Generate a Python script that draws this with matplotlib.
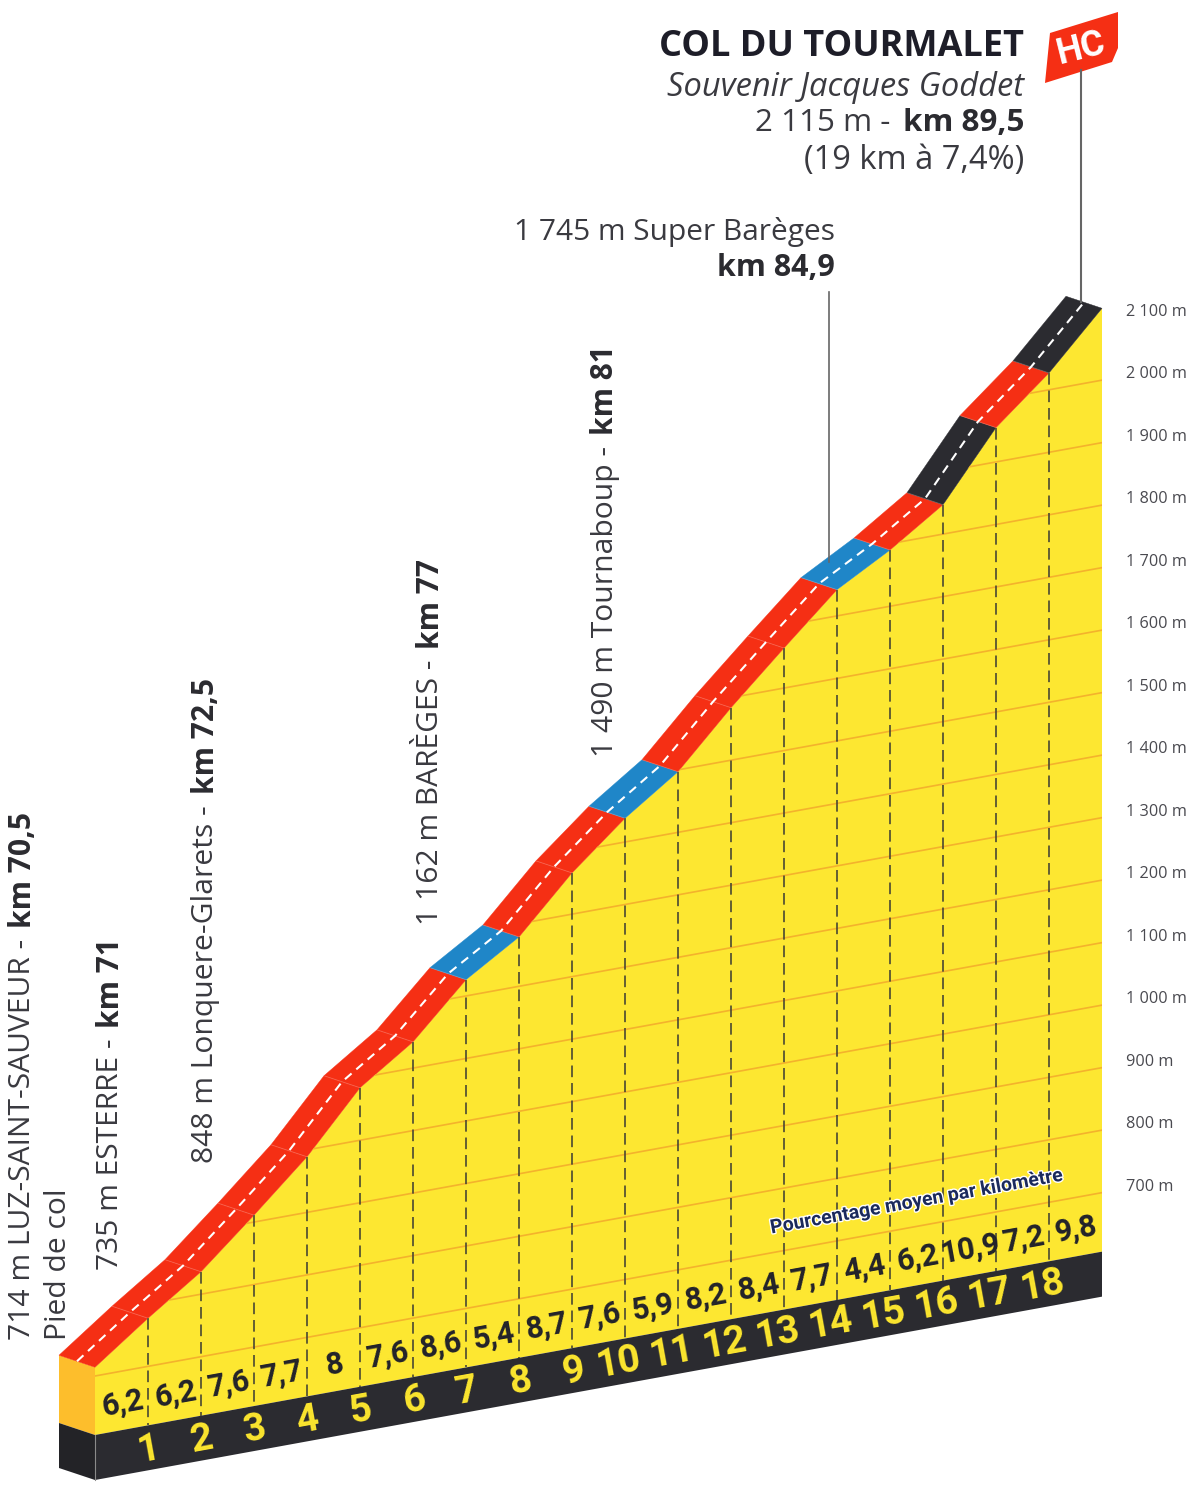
import matplotlib
matplotlib.use("Agg")
import matplotlib.pyplot as plt
import matplotlib.patheffects as pe
from matplotlib.patches import Polygon
from matplotlib.transforms import Affine2D

km_marks = [0, 1, 2, 3, 4, 5, 6, 7, 8, 9, 10, 11, 12, 13, 14, 15, 16, 17, 18, 19]
altitudes = [714, 777, 836, 911, 989, 1084, 1142, 1226, 1279, 1366,
             1438, 1497, 1584, 1664, 1742, 1790, 1847, 1955, 2027, 2115]
percents = [6.2, 6.2, 7.6, 7.7, 8, 7.6, 8.6, 5.4, 8.7, 7.6,
            5.9, 8.2, 8.4, 7.7, 4.4, 6.2, 10.9, 7.2, 9.8]
grid_alts = list(range(700, 2100, 100))
tick_alts = list(range(700, 2200, 100))

BASE_ALT = 605.6
BAND_ALT = 533.6
YELLOW = "#FDE731"
DARK = "#2B2B30"
TEXT = "#3a3a40"
NARROW = "Roboto"
OPEN = "Open Sans"


def road_color(p):
    if p < 6:
        return "#1F86C8"
    if p < 9.5:
        return "#F52F14"
    return DARK


def alt_label(a):
    if a >= 1000:
        return f"{a // 1000} {a % 1000:03d} m"
    return f"{a} m"


def two_part(fig, ax, x, y, regular, bold, size, rot=90):
    # regular text then bold text right after it, along the reading direction
    rend = fig.canvas.get_renderer()
    t1 = ax.text(x, y, regular, family=OPEN, fontsize=size, color=TEXT, rotation=rot,
                 rotation_mode="anchor", ha="left", va="center")
    b = t1.get_window_extent(rend)
    if rot == 90:
        ax.text(x, y - b.height - 3, bold, family=OPEN, fontsize=size, weight="bold", color=DARK,
                rotation=rot, rotation_mode="anchor", ha="left", va="center")
    else:
        t2 = ax.text(x, y, bold, family=OPEN, fontsize=size, weight="bold", color=DARK,
                     ha="right", va="center")
        b2 = t2.get_window_extent(rend)
        t1.set_x(x - b2.width - b.width - 4)


def main():
    fig = plt.figure(figsize=(12, 15.07), dpi=100)
    ax = fig.add_axes([0, 0, 1, 1])
    ax.set_xlim(0, 1200)
    ax.set_ylim(1507, 0)
    ax.axis("off")

    # oblique projection: km and metres to picture position
    prof = Affine2D.from_values(53, -9.65, 0, -0.625, 95, 1813.5)
    front = prof + ax.transData
    centre = prof + Affine2D().translate(-18, -6) + ax.transData

    # left side face
    k0 = km_marks[0]
    p = prof.transform([(k0, altitudes[0]), (k0, BASE_ALT), (k0, BAND_ALT)])
    ax.add_patch(Polygon([p[0], p[1], p[1] + (-36, -12), p[0] + (-36, -12)], fc="#FDBE2C", ec="none"))
    ax.add_patch(Polygon([p[1], p[2], p[2] + (-36, -12), p[1] + (-36, -12)], fc="#232327", ec="none"))

    # yellow wall and dark band
    wall_pts = list(zip(km_marks, altitudes)) + [(km_marks[-1], BASE_ALT), (k0, BASE_ALT)]
    wall = Polygon(wall_pts, fc=YELLOW, ec="none", transform=front)
    ax.add_patch(wall)
    ax.add_patch(Polygon([(k0, BASE_ALT), (km_marks[-1], BASE_ALT), (km_marks[-1], BAND_ALT), (k0, BAND_ALT)],
                         fc=DARK, ec="none", transform=front))
    ax.plot([k0, k0], [BASE_ALT, BAND_ALT], color="#8a8a8a", lw=0.8, transform=front)

    for a in grid_alts:
        line, = ax.plot([k0, km_marks[-1]], [a, a], color="#F4B22C", lw=1.2, transform=front)
        line.set_clip_path(wall)

    for k, a in zip(km_marks[1:-1], altitudes[1:-1]):
        ax.plot([k, k], [a, BASE_ALT], color="#4a4833", lw=1.2, dashes=(7, 3.5), transform=front)

    # road, one piece per km
    for i, pct in enumerate(percents):
        seg = [(km_marks[i], altitudes[i]), (km_marks[i + 1], altitudes[i + 1])]
        pts = prof.transform(seg)
        quad = [pts[0], pts[1], pts[1] + (-36, -12), pts[0] + (-36, -12)]
        ax.add_patch(Polygon(quad, fc=road_color(pct), ec=road_color(pct), lw=0.3))
        if i > 0:
            ax.plot([pts[0][0], pts[0][0] - 36], [pts[0][1], pts[0][1] - 12],
                    color="white", alpha=0.18, lw=0.7)
    ax.plot(km_marks, altitudes, color="white", lw=1.5, dashes=(4.2, 3), transform=centre)

    # percent and km numbers along the base
    for i, pct in enumerate(percents):
        x, y = prof.transform((km_marks[i] + 0.5, BASE_ALT))
        label = f"{pct:g}".replace(".", ",")
        ax.text(x + 1, y - 27, label, family=NARROW, weight="bold", fontsize=22, color="#22222a",
                rotation=10.3, rotation_mode="anchor", ha="center", va="center")
    for k in km_marks[1:-1]:
        x, y = prof.transform((k, BASE_ALT))
        ax.text(x + (1 if k < 10 else -6), y + 24, str(k), family=NARROW, weight="bold", fontsize=28,
                color="#FCE62E", rotation=10.3, rotation_mode="anchor", ha="center", va="center")

    ax.text(917, 1202, "Pourcentage moyen par kilomètre", family=NARROW, weight="bold", fontsize=14,
            color="#1B2A5C", rotation=10.3, rotation_mode="anchor", ha="center", va="center",
            path_effects=[pe.withStroke(linewidth=2, foreground="white")])

    # altitude scale on the right
    for a in tick_alts:
        x, y = prof.transform((km_marks[-1], a))
        ax.text(x + 24, y - 6, alt_label(a), family=OPEN, fontsize=11.7, color="#4a4a50", va="center", ha="left")

    # climb labels
    two_part(fig, ax, 23, 1340, "714 m LUZ-SAINT-SAUVEUR - ", "km 70,5", 21.6)
    ax.text(58, 1340, "Pied de col", family=OPEN, fontsize=21.6, color=TEXT, rotation=90,
            rotation_mode="anchor", ha="left", va="center")
    two_part(fig, ax, 111, 1270, "735 m ESTERRE - ", "km 71", 21.6)
    two_part(fig, ax, 206, 1163, "848 m Lonquere-Glarets - ", "km 72,5", 21.6)
    two_part(fig, ax, 431, 925, "1 162 m BARÈGES - ", "km 77", 21.6)
    two_part(fig, ax, 605, 757, "1 490 m Tournaboup - ", "km 81", 21.6)

    ax.text(835, 232, "1 745 m Super Barèges", family=OPEN, fontsize=21.5, color=TEXT, ha="right", va="center")
    ax.text(835, 268, "km 84,9", family=OPEN, fontsize=22, weight="bold", color=DARK, ha="right", va="center")
    ax.plot([829, 829], [292, 562], color="#666666", lw=1.2)

    ax.text(1024, 47, "COL DU TOURMALET", family=OPEN, fontsize=26, weight="bold", color="#1d1d28",
            ha="right", va="center")
    ax.text(1024, 87, "Souvenir Jacques Goddet", family=OPEN, fontsize=23.5, style="italic", color=TEXT,
            ha="right", va="center")
    two_part(fig, ax, 1024, 123, "2 115 m - ", "km 89,5", 22.6, rot=0)
    ax.text(1024, 161, "(19 km à 7,4%)", family=OPEN, fontsize=23.5, color=TEXT, ha="right", va="center")

    # HC flag
    ax.plot([1081, 1081], [70, 302], color="#666666", lw=1.5)
    ax.add_patch(Polygon([(1050, 33), (1118, 12), (1118, 48), (1112, 62), (1045, 83)], fc="#F52F14", ec="none"))
    ax.text(1081, 48, "HC", family=NARROW, weight="bold", fontsize=26, color="white",
            rotation=14, rotation_mode="anchor", ha="center", va="center")

    fig.savefig("out.png", dpi=100)


if __name__ == "__main__":
    main()
